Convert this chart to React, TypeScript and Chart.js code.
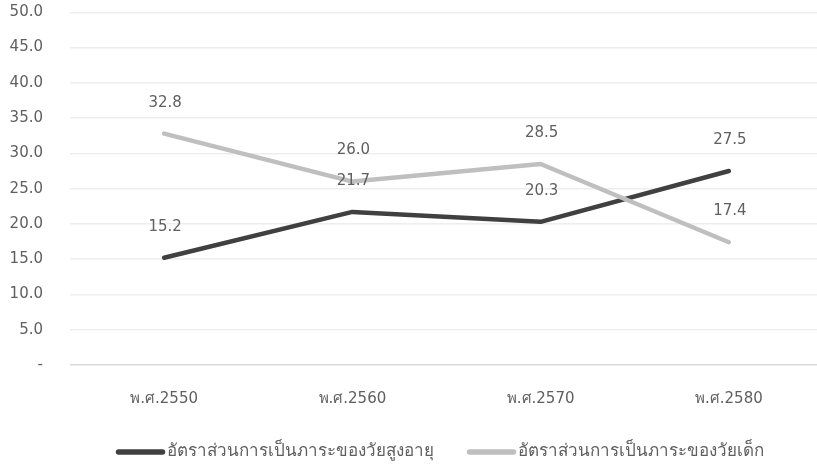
import React, { useEffect, useRef } from "react";
import { Chart, registerables } from "chart.js";

Chart.register(...registerables);

const categories = ["พ.ศ.2550", "พ.ศ.2560", "พ.ศ.2570", "พ.ศ.2580"];
const elderlyRatio = [15.2, 21.7, 20.3, 27.5];
const childRatio = [32.8, 26.0, 28.5, 17.4];
const seriesNames = [
  "อัตราส่วนการเป็นภาระของวัยสูงอายุ",
  "อัตราส่วนการเป็นภาระของวัยเด็ก",
];
const yMin = 0;
const yMax = 50;
const yStep = 5;

const FONT = "'DejaVu Sans', sans-serif";
const TEXT = "#5f5f5f";

const labelPlugin = {
  id: "pointLabels",
  afterDatasetsDraw(chart: any) {
    const ctx = chart.ctx;
    ctx.save();
    ctx.font = `15px ${FONT}`;
    ctx.fillStyle = TEXT;
    ctx.textAlign = "center";
    ctx.textBaseline = "middle";
    chart.data.datasets.forEach((ds: any, i: number) => {
      const meta = chart.getDatasetMeta(i);
      meta.data.forEach((pt: any, j: number) => {
        ctx.fillText(Number(ds.data[j]).toFixed(1), pt.x + 1, pt.y - 31);
      });
    });
    ctx.restore();
  },
};

const legendPlugin = {
  id: "customLegend",
  afterDraw(chart: any) {
    const ctx = chart.ctx;
    const area = chart.chartArea;
    ctx.save();
    ctx.font = `17px ${FONT}`;
    const lineLen = 50;
    const textGap = 1;
    const itemGap = 33;
    const items = chart.data.datasets.map((ds: any) => ({
      label: ds.label,
      color: ds.borderColor,
      w: lineLen + textGap + ctx.measureText(ds.label).width,
    }));
    const total = items.reduce((s: number, it: any) => s + it.w, 0) + itemGap * (items.length - 1);
    let x = (area.left + area.right) / 2 - 7 - total / 2;
    const y = area.bottom + 87;
    items.forEach((it: any) => {
      ctx.strokeStyle = it.color;
      ctx.lineWidth = 5.5;
      ctx.lineCap = "round";
      ctx.beginPath();
      ctx.moveTo(x + 3, y);
      ctx.lineTo(x + lineLen - 3, y);
      ctx.stroke();
      ctx.fillStyle = TEXT;
      ctx.textAlign = "left";
      ctx.textBaseline = "middle";
      ctx.fillText(it.label, x + lineLen + textGap, y);
      x += it.w + itemGap;
    });
    ctx.restore();
  },
};

export default function App() {
  const ref = useRef<HTMLCanvasElement>(null);
  useEffect(() => {
    if (!ref.current) return;
    const chart = new Chart(ref.current, {
      type: "line",
      data: {
        labels: categories,
        datasets: [
          {
            label: seriesNames[0],
            data: elderlyRatio,
            borderColor: "#404040",
            backgroundColor: "#404040",
            borderWidth: 4.5,
            borderCapStyle: "round",
            borderJoinStyle: "round",
            pointRadius: 0,
            tension: 0,
            order: 1,
          },
          {
            label: seriesNames[1],
            data: childRatio,
            borderColor: "#bfbfbf",
            backgroundColor: "#bfbfbf",
            borderWidth: 4.5,
            borderCapStyle: "round",
            borderJoinStyle: "round",
            pointRadius: 0,
            tension: 0,
            order: 0,
          },
        ],
      },
      options: {
        animation: false,
        responsive: true,
        maintainAspectRatio: false,
        layout: { padding: { left: 0, top: 12.3, right: 0, bottom: 0 } },
        plugins: {
          tooltip: { enabled: false },
          legend: { display: false },
        },
        scales: {
          x: {
            offset: true,
            afterFit: (s: any) => {
              s.height = 100;
            },
            grid: { display: false, drawTicks: false },
            border: { display: false },
            ticks: {
              color: TEXT,
              font: { family: FONT, size: 15 },
              padding: 25,
              maxRotation: 0,
            },
          },
          y: {
            min: yMin,
            max: yMax,
            afterFit: (s: any) => {
              s.width = 70;
            },
            grid: {
              drawTicks: true,
              tickLength: 27,
              tickColor: "rgba(0,0,0,0)",
              color: (c: any) => (c.tick && c.tick.value === 0 ? "#d9d9d9" : "#eeeeee"),
              lineWidth: 1.5,
            },
            border: { display: false },
            ticks: {
              stepSize: yStep,
              color: TEXT,
              font: { family: FONT, size: 15 },
              padding: 0,
              callback: (v: any) => (Number(v) === 0 ? "-" : Number(v).toFixed(1)),
            },
          },
        },
      },
      plugins: [labelPlugin, legendPlugin],
    });
    return () => chart.destroy();
  }, []);
  return (
    <div style={{ position: "absolute", left: 0, top: 0, width: 817, height: 465, overflow: "hidden", background: "#fff" }}>
      <div style={{ position: "relative", width: 823, height: 465 }}>
        <canvas ref={ref} />
      </div>
    </div>
  );
}
